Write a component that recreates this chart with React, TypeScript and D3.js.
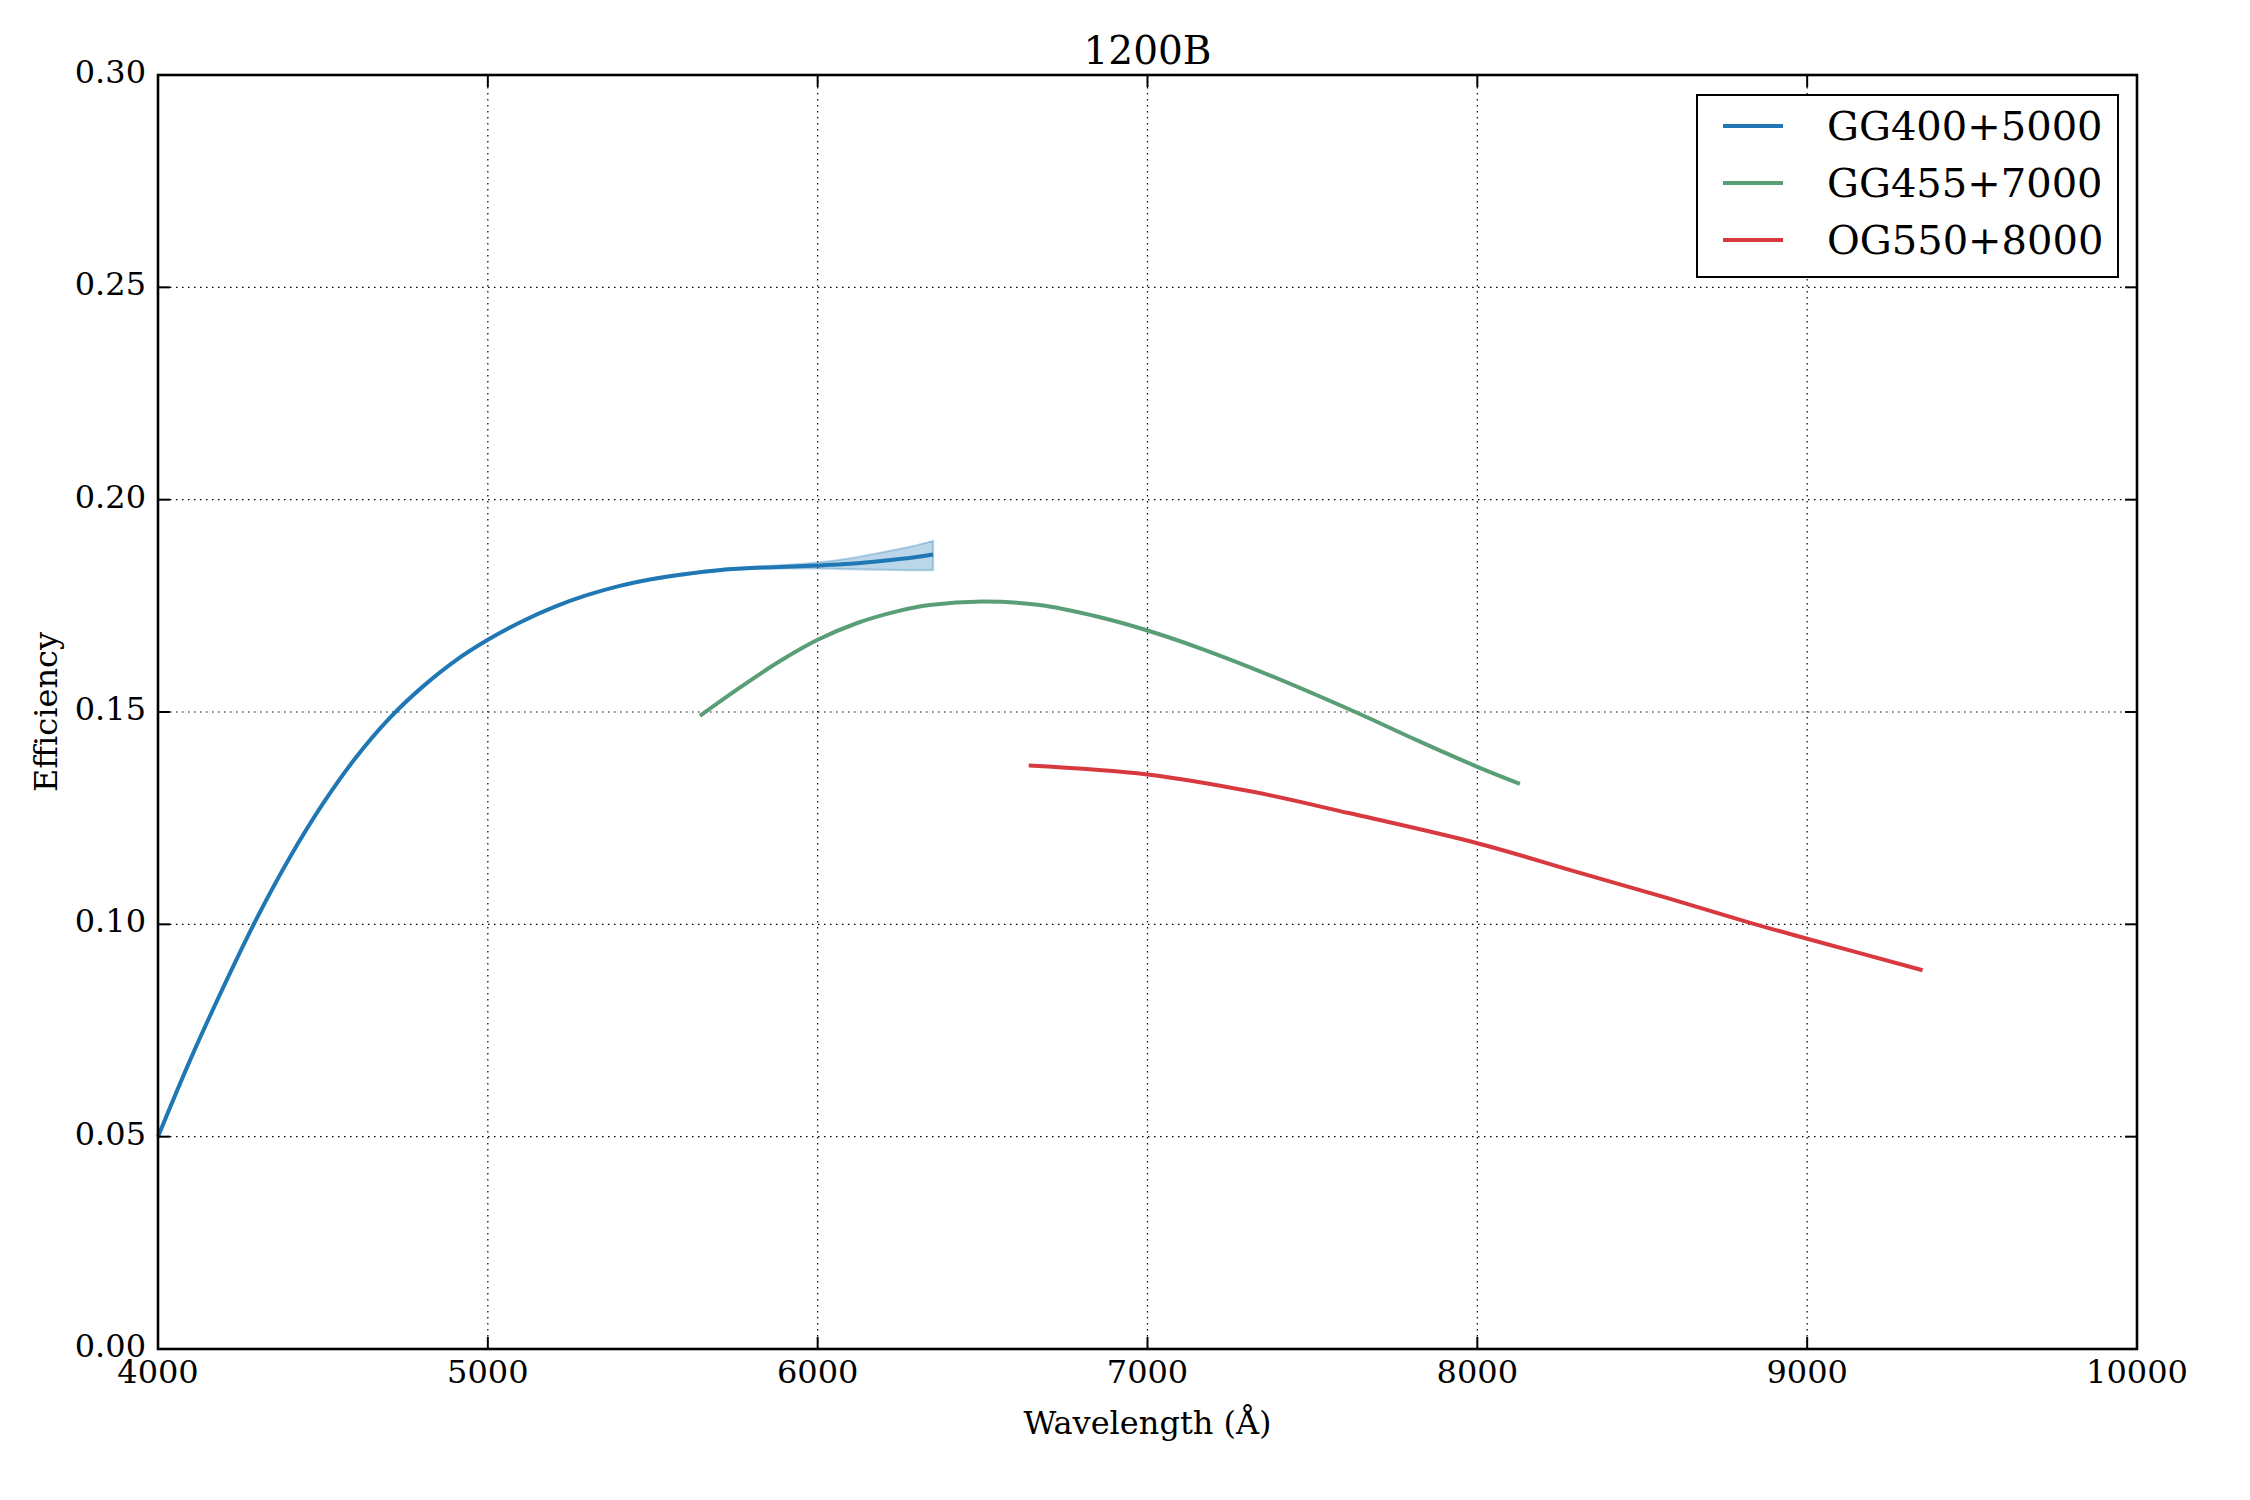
import * as d3 from 'd3'

// GG400+5000
const blueWl = [4000, 4100, 4200, 4300, 4400, 4500, 4600, 4700, 4800, 4900, 5000, 5100, 5200, 5300, 5400, 5500, 5600, 5700, 5800, 5900, 6000, 6100, 6200, 6300, 6350]
const blueEff = [0.05, 0.0685, 0.0855, 0.1015, 0.1158, 0.1284, 0.1393, 0.1484, 0.1558, 0.162, 0.167, 0.1712, 0.1747, 0.1775, 0.1797, 0.1813, 0.1825, 0.1834, 0.1839, 0.1842, 0.1845, 0.1849, 0.1856, 0.1865, 0.1871]

// uncertainty band on the blue curve (only visible at the red end)
const bandWl = [5500, 5700, 5850, 6000, 6100, 6200, 6280, 6350]
const bandLo = [0.1811, 0.1832, 0.1838, 0.1838, 0.1836, 0.1835, 0.1834, 0.1834]
const bandHi = [0.1815, 0.1836, 0.1844, 0.1852, 0.1862, 0.1877, 0.1889, 0.1903]

// GG455+7000
const greenWl = [5643, 5765, 5886, 6000, 6118, 6240, 6340, 6500, 6673, 6847, 7000, 7160, 7369, 7630, 7821, 8000, 8129]
const greenEff = [0.1491, 0.1558, 0.162, 0.167, 0.1709, 0.1737, 0.1752, 0.176, 0.1752, 0.1725, 0.1692, 0.165, 0.1587, 0.15, 0.1432, 0.1371, 0.1331]

// OG550+8000
const redWl = [6640, 7000, 7320, 7610, 8000, 8290, 8580, 8830, 9000, 9350]
const redEff = [0.1374, 0.1353, 0.1312, 0.1262, 0.1191, 0.1126, 0.1061, 0.1003, 0.0966, 0.0892]

const xTicks = [4000, 5000, 6000, 7000, 8000, 9000, 10000]
const yTicks = [0, 0.05, 0.1, 0.15, 0.2, 0.25, 0.3]

const W = 2250
const H = 1500
const ML = 158
const MR = 2137
const MT = 75
const MB = 1349
const TICK = 12
const FONT = '"DejaVu Serif", serif'

const series = [
  { label: 'GG400+5000', color: '#1f77b4', wl: blueWl, eff: blueEff },
  { label: 'GG455+7000', color: '#5a9e77', wl: greenWl, eff: greenEff },
  { label: 'OG550+8000', color: '#d8393f', wl: redWl, eff: redEff },
]

export default function App() {
  const x = d3.scaleLinear().domain([4000, 10000]).range([ML, MR])
  const y = d3.scaleLinear().domain([0, 0.3]).range([MB, MT])

  const line = d3
    .line<[number, number]>()
    .x((d) => x(d[0]))
    .y((d) => y(d[1]))
    .curve(d3.curveCatmullRom.alpha(0.5))

  const area = d3
    .area<number>()
    .x((_, i) => x(bandWl[i]))
    .y0((_, i) => y(bandLo[i]))
    .y1((_, i) => y(bandHi[i]))
    .curve(d3.curveMonotoneX)

  const bandPath = area(bandWl) ?? ''

  return (
    <div style={{ position: 'absolute', left: 0, top: 0 }}>
      <svg width={W} height={H} style={{ display: 'block', background: '#fff' }}>
        <rect x={0} y={0} width={W} height={H} fill="#fff" />

        {/* Grid */}
        {xTicks.map((t) => (
          <line key={`gx${t}`} x1={x(t)} x2={x(t)} y1={MT} y2={MB} stroke="#000" strokeWidth={1.2} strokeDasharray="1.5,4.5" />
        ))}
        {yTicks.map((t) => (
          <line key={`gy${t}`} x1={ML} x2={MR} y1={y(t)} y2={y(t)} stroke="#000" strokeWidth={1.2} strokeDasharray="1.5,4.5" />
        ))}

        {/* Band + curves */}
        <path d={bandPath} fill="#1f77b4" fillOpacity={0.3} stroke="#1f77b4" strokeOpacity={0.3} strokeWidth={2} />
        {series.map((s) => (
          <path
            key={s.label}
            d={line(s.wl.map((w, i) => [w, s.eff[i]] as [number, number])) ?? ''}
            fill="none"
            stroke={s.color}
            strokeWidth={4}
          />
        ))}

        {/* Ticks (inward, all four sides) */}
        {xTicks.map((t) => (
          <g key={`tx${t}`}>
            <line x1={x(t)} x2={x(t)} y1={MB} y2={MB - TICK} stroke="#000" strokeWidth={2} />
            <line x1={x(t)} x2={x(t)} y1={MT} y2={MT + TICK} stroke="#000" strokeWidth={2} />
            <text x={x(t)} y={1383} textAnchor="middle" fontFamily={FONT} fontSize={32} fill="#000">
              {t}
            </text>
          </g>
        ))}
        {yTicks.map((t) => (
          <g key={`ty${t}`}>
            <line x1={ML} x2={ML + TICK} y1={y(t)} y2={y(t)} stroke="#000" strokeWidth={2} />
            <line x1={MR} x2={MR - TICK} y1={y(t)} y2={y(t)} stroke="#000" strokeWidth={2} />
            <text x={146} y={y(t) + 8} textAnchor="end" fontFamily={FONT} fontSize={32} fill="#000">
              {t.toFixed(2)}
            </text>
          </g>
        ))}

        {/* Frame */}
        <rect x={ML} y={MT} width={MR - ML} height={MB - MT} fill="none" stroke="#000" strokeWidth={2.6} />

        {/* Title and axis labels */}
        <text x={(ML + MR) / 2} y={64} textAnchor="middle" fontFamily={FONT} fontSize={39} fill="#000">
          1200B
        </text>
        <text x={(ML + MR) / 2} y={1434} textAnchor="middle" fontFamily={FONT} fontSize={32} fill="#000">
          Wavelength (Å)
        </text>
        <text
          transform={`translate(57,${(MT + MB) / 2}) rotate(-90)`}
          textAnchor="middle"
          fontFamily={FONT}
          fontSize={32}
          fill="#000"
        >
          Efficiency
        </text>

        {/* Legend */}
        <rect x={1697} y={95} width={421} height={182} fill="#fff" stroke="#000" strokeWidth={2} />
        {series.map((s, i) => {
          const ly = 126 + i * 57
          return (
            <g key={`lg${s.label}`}>
              <line x1={1723} x2={1783} y1={ly} y2={ly} stroke={s.color} strokeWidth={4} />
              <text x={1827} y={ly + 13.5} fontFamily={FONT} fontSize={40} fill="#000">
                {s.label}
              </text>
            </g>
          )
        })}
      </svg>
    </div>
  )
}
